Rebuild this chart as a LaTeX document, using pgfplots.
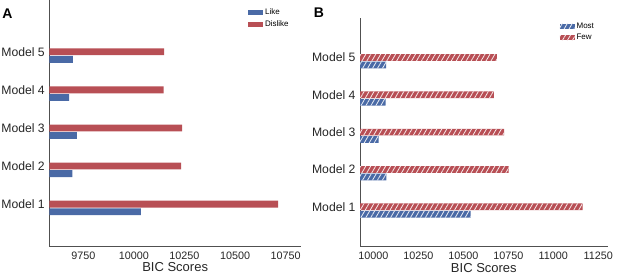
\documentclass[border=0pt]{standalone}
\usepackage{pgfplots}
\usepackage{pgfplotstable}
\pgfplotsset{compat=1.18}
\usepackage{fontspec}
\setmainfont{Liberation Sans}
\usetikzlibrary{patterns.meta}
\definecolor{sblue}{RGB}{74,106,166}
\definecolor{sred}{RGB}{184,79,85}
\definecolor{axgray}{RGB}{80,80,80}
\pgfplotsset{
  panel/.style={
    scale only axis,
    anchor=south west,
    axis x line*=bottom,
    axis y line*=left,
    axis line style={axgray, line width=0.8pt},
    major tick length=0pt,
    xbar, bar shift=0pt,
    ytick={0,1,2,3,4},
    yticklabels={Model 1,Model 2,Model 3,Model 4,Model 5},
    scaled x ticks=false,
    /pgf/number format/assume math mode=true,
    /pgf/number format/1000 sep={},
    x tick label style={font=\fontsize{10.8}{12}\selectfont, text=black!85, yshift=-2pt},
    y tick label style={font=\fontsize{12.2}{14}\selectfont, text=black!85, xshift=-1pt},
    xlabel={BIC Scores},
    xlabel style={font=\fontsize{13}{15}\selectfont, text=black!85, yshift=3.5pt},
    legend cell align=left,
    legend style={draw=none, fill=none, anchor=north west, inner sep=0pt,
      font=\fontsize{8}{9.5}\selectfont, row sep=0.5pt,
      /tikz/every even column/.append style={column sep=4pt}},
    legend image code/.code={\path[##1] (0pt,-2.3pt) rectangle (15pt,2.3pt);},
  },
}
\pgfplotstableread{
y   like   dislike
0   10035  10713
1   9696   10233
2   9718   10239
3   9680   10147
4   9698   10150
}\dataA
\pgfplotstableread{
y   most   few
0   10541  11163
1   10072  10752
2   10030  10726
3   10069  10669
4   10071  10686
}\dataB
\begin{document}
\begin{tikzpicture}
\useasboundingbox (0,0) rectangle (617pt,275pt);
\begin{axis}[panel,
  at={(49.3pt,29pt)}, width=251.7pt, height=246pt,
  xmin=9582, xmax=10826, ymin=-1.1, ymax=5.36,
  xtick={9750,10000,10250,10500,10750},
  bar width=0.18,
  legend style={at={(axis description cs:0.789,0.972)}},
]
\addplot[fill=sblue, draw=none] table[x=like, y expr=\thisrow{y}-0.2] {\dataA};
\addlegendentry{Like}
\addplot[fill=sred, draw=none] table[x=dislike, y=y] {\dataA};
\addlegendentry{Dislike}
\end{axis}
\begin{axis}[panel,
  at={(360pt,28.3pt)}, width=247.7pt, height=228.4pt,
  xmin=9926, xmax=11302, ymin=-1.07, ymax=5.05,
  xtick={10000,10250,10500,10750,11000,11250},
  bar width=0.18,
  legend style={at={(axis description cs:0.805,0.99)}},
]
\addplot[fill=sblue, draw=none,
  postaction={pattern={Lines[angle=60,distance=4.3pt,line width=0.8pt]}, pattern color=white!88!sblue}]
  table[x=most, y expr=\thisrow{y}-0.2] {\dataB};
\addlegendentry{Most}
\addplot[fill=sred, draw=none,
  postaction={pattern={Lines[angle=60,distance=4.3pt,line width=0.8pt]}, pattern color=white!88!sred}]
  table[x=few, y=y] {\dataB};
\addlegendentry{Few}
\end{axis}
\node[font=\fontsize{14}{16}\selectfont\bfseries, anchor=center] at (7.5pt,261.7pt) {A};
\node[font=\fontsize{14}{16}\selectfont\bfseries, anchor=center] at (319pt,261.9pt) {B};
\end{tikzpicture}
\end{document}
